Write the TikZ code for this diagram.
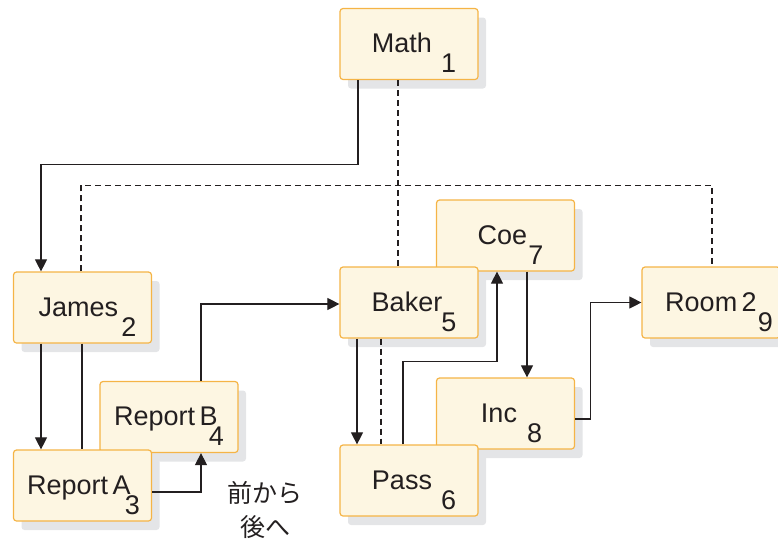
\documentclass[tikz,border=0pt]{standalone}
\usepackage{fontspec}
\setmainfont{Liberation Sans}
\newfontfamily\jpfont{Noto Sans CJK JP}
\usetikzlibrary{arrows.meta,shadows}
\definecolor{boxfill}{RGB}{253,246,226}
\definecolor{boxline}{RGB}{245,180,70}
\definecolor{boxshade}{RGB}{228,229,231}
\definecolor{ink}{RGB}{35,31,32}
\newcommand\boxno[2][3pt]{\hspace{#1}\raisebox{-20pt}{#2}}
\begin{document}
\begin{tikzpicture}[x=1pt,y=-1pt,
  box/.style={draw=boxline, line width=1.2pt, fill=boxfill, rounded corners=3pt,
    minimum width=138pt, minimum height=71pt, inner sep=0pt,
    text height=17pt, text depth=0pt, text=ink, font=\fontsize{27}{32}\selectfont,
    general shadow={fill=boxshade, shadow xshift=8pt, shadow yshift=-9pt}},
  tie/.style={draw=ink, line width=1.1pt},
  link/.style={tie, -{Triangle[length=12pt,width=12pt]}},
  dashlink/.style={tie, dash pattern=on 6pt off 4pt}]
\useasboundingbox (0,0) rectangle (778,544);
% boxes, back ones first
\node[box] (math) at (409,44) {\hspace{10pt}Math\boxno[9pt]{1}};
\node[box] (james) at (82.5,307.5) {\hspace{10pt}James\boxno[3pt]{2}};
\node[box] (repB) at (169,417) {Report\,B\boxno[-9pt]{4}};
\node[box] (repA) at (82.5,485.5) {\hspace{2pt}Report\,A\boxno[-6pt]{3}};
\node[box] (coe) at (505.5,235.5) {\hspace{10pt}Coe\boxno[1pt]{7}};
\node[box] (baker) at (409,302.5) {\hspace{10pt}Baker\boxno[-1pt]{5}};
\node[box] (inc) at (505.5,413.5) {\hspace{12pt}Inc\boxno[10pt]{8}};
\node[box] (pass) at (409,480.5) {\hspace{10pt}Pass\boxno[9pt]{6}};
\node[box] (room) at (711,302.5) {\hspace{16pt}Room\,2\boxno[1pt]{9}};
\node[font=\jpfont\fontsize{25}{34}\selectfont, align=center, text=ink] (dir) at (265,510) {前から\\後へ};
% connectors
\draw[link] ([xshift=-51pt]math.south) -- ++(0,84) -| ([xshift=-41.5pt]james.north);
\draw[dashlink] ([xshift=-11pt]math.south) -- ([xshift=-11pt]baker.north);
\draw[dashlink] ([xshift=-1.5pt]james.north) -- ++(0,-86) -| ([xshift=1pt]room.north);
\draw[link] ([xshift=-41.5pt]james.south) -- ([xshift=-41.5pt]repA.north);
\draw[tie] ([xshift=-0.5pt]james.south) -- ([xshift=-0.5pt]repA.north);
\draw[link] ([yshift=-6.5pt]repA.east) -| ([xshift=32pt]repB.south);
\draw[link] ([xshift=32pt]repB.north) |- ([yshift=-1.5pt]baker.west);
\draw[link] ([xshift=-52pt]baker.south) -- ([xshift=-52pt]pass.north);
\draw[dashlink] ([xshift=-28pt]baker.south) -- ([xshift=-28pt]pass.north);
\draw[link] ([xshift=-6pt]pass.north) -- ++(0,-83) -| ([xshift=-8.5pt]coe.south);
\draw[link] ([xshift=21.5pt]coe.south) -- ([xshift=21.5pt]inc.north);
\draw[link] ([yshift=-5.5pt]inc.east) -- ++(15,0) |- (room.west);
\end{tikzpicture}
\end{document}
